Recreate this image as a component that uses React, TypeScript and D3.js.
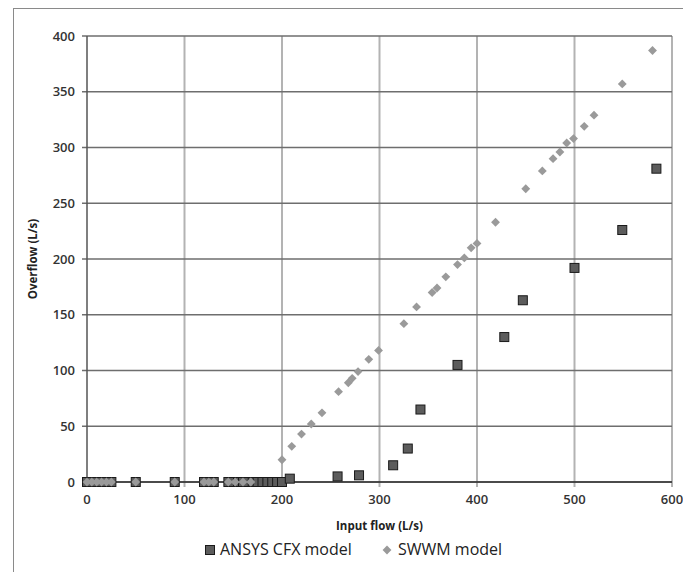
import React from 'react';
import * as d3 from 'd3';

// ANSYS CFX model (input flow L/s, overflow L/s)
const ansysX = [0, 5, 10, 15, 20, 25, 50, 90, 120, 125, 130, 145, 150, 155, 160, 165, 170, 175, 180, 185, 190, 195, 200,
  208, 257, 279, 314, 329, 342, 380, 428, 447, 500, 549, 584];
const ansysY = [0, 0, 0, 0, 0, 0, 0, 0, 0, 0, 0, 0, 0, 0, 0, 0, 0, 0, 0, 0, 0, 0, 0,
  3, 5, 6, 15, 30, 65, 105, 130, 163, 192, 226, 281];

// SWWM model
const swwmX = [0, 5, 10, 15, 20, 25, 50, 90, 120, 125, 130, 145, 152, 160, 168,
  200, 210, 220, 230, 241, 258, 268, 272, 278, 289, 299, 325, 338, 354, 359, 368, 380, 387, 394, 400,
  419, 450, 467, 478, 485, 492, 499, 510, 520, 549, 580];
const swwmY = [0, 0, 0, 0, 0, 0, 0, 0, 0, 0, 0, 0, 0, 0, 0,
  20, 32, 43, 52, 62, 81, 89, 93, 99, 110, 118, 142, 157, 170, 174, 184, 195, 201, 210, 214,
  233, 263, 279, 290, 296, 304, 308, 319, 329, 357, 387];

const xTicks = [0, 100, 200, 300, 400, 500, 600];
const yTicks = [0, 50, 100, 150, 200, 250, 300, 350, 400];

const font = '"Open Sans", sans-serif';

export default function App() {
  const width = 683;
  const height = 572;
  const margin = { left: 87, right: 11, top: 36, bottom: 90 };

  const x = d3.scaleLinear().domain([0, 600]).range([margin.left, width - margin.right]);
  const y = d3.scaleLinear().domain([0, 400]).range([height - margin.bottom, margin.top]);

  const ansys = ansysX.map((v, i) => [v, ansysY[i]]);
  const swwm = swwmX.map((v, i) => [v, swwmY[i]]);

  const diamond = d3.symbol().type(d3.symbolDiamond2).size(50)();

  return (
    <svg width={width} height={height} style={{ position: 'absolute', left: 0, top: 0, background: '#fff' }}>
      <rect x={13.5} y={8.5} width={720} height={620} fill="none" stroke="#8a8a8a" />

      {/* vertical grid */}
      {xTicks.filter(t => t > 0).map(t => (
        <line key={'vx' + t} x1={x(t)} x2={x(t)} y1={y(400)} y2={y(0) + 5} stroke="#b3b3b3" strokeWidth={2} />
      ))}
      {/* horizontal grid */}
      {yTicks.map(t => (
        <line key={'hy' + t} x1={x(0) - 5} x2={x(600)} y1={y(t)} y2={y(t)} stroke="#6e6e6e" strokeWidth={1.5} />
      ))}
      {/* axes */}
      <line x1={x(0)} x2={x(0)} y1={y(400)} y2={y(0) + 5} stroke="#555" strokeWidth={1.5} />
      <line x1={x(0)} x2={x(600)} y1={y(0)} y2={y(0)} stroke="#333" strokeWidth={1.5} />

      {yTicks.map(t => (
        <text key={'yl' + t} x={75} y={y(t)} dy="0.35em" textAnchor="end" fontFamily={font} fontSize={13} fontWeight={600} fill="#333">{t}</text>
      ))}
      {xTicks.map(t => (
        <text key={'xl' + t} x={x(t)} y={504} textAnchor="middle" fontFamily={font} fontSize={13} fontWeight={600} fill="#333">{t}</text>
      ))}

      <text x={(x(0) + x(600)) / 2} y={530} textAnchor="middle" fontFamily={font} fontSize={11.5} fontWeight="bold" fill="#222">Input flow (L/s)</text>
      <text transform={`translate(37,${(y(0) + y(400)) / 2}) rotate(-90)`} textAnchor="middle" fontFamily={font} fontSize={11.5} fontWeight="bold" fill="#222">Overflow (L/s)</text>

      {ansys.map((d, i) => (
        <rect key={'a' + i} x={x(d[0]) - 4.5} y={y(d[1]) - 4.5} width={9} height={9} fill="#5c5c5c" stroke="#1a1a1a" strokeWidth={1} />
      ))}
      {swwm.map((d, i) => (
        <path key={'s' + i} d={diamond} transform={`translate(${x(d[0])},${y(d[1])})`} fill="#9a9a9a" />
      ))}

      {/* legend */}
      <rect x={205.5} y={545.5} width={9} height={9} fill="#5c5c5c" stroke="#1a1a1a" />
      <text x={220} y={555} fontFamily={font} fontSize={16} fill="#222">ANSYS CFX model</text>
      <path d={diamond} transform="translate(387,550)" fill="#9a9a9a" />
      <text x={398} y={555} fontFamily={font} fontSize={16} fill="#222">SWWM model</text>
    </svg>
  );
}
